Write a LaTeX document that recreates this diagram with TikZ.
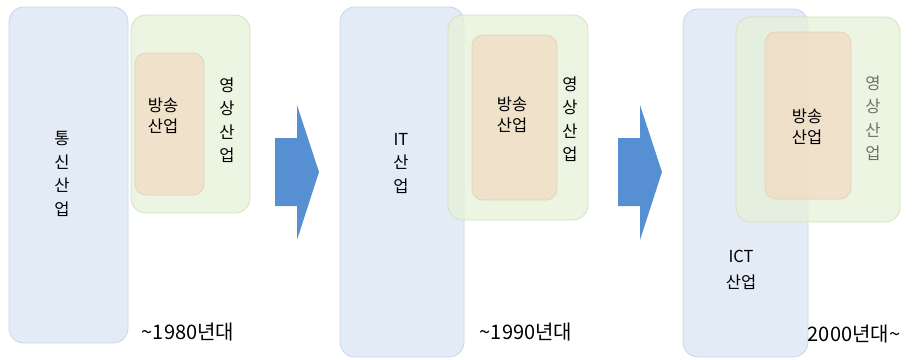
\documentclass[tikz,border=0pt]{standalone}
\usepackage{fontspec}
\setmainfont{Noto Sans CJK KR}
\definecolor{bluefill}{HTML}{DCE7F4}
\definecolor{blueline}{HTML}{C5D6EA}
\definecolor{greenfill}{HTML}{E6F0D8}
\definecolor{greenline}{HTML}{D3E2C0}
\definecolor{orangefill}{HTML}{F1DCC4}
\definecolor{orangeline}{HTML}{E6D2BA}
\definecolor{arrowblue}{HTML}{5690D2}
\definecolor{txtgray}{HTML}{707070}
\begin{document}
\begin{tikzpicture}[x=1pt,y=-1pt,
  bluebox/.style={draw=blueline, fill=bluefill, fill opacity=0.8, rounded corners=15pt, inner sep=0pt, line width=0.8pt},
  greenbox/.style={draw=greenline, fill=greenfill, fill opacity=0.75, rounded corners=15pt, inner sep=0pt, line width=0.8pt},
  orangebox/.style={draw=orangeline, fill=orangefill, fill opacity=0.8, rounded corners=11pt, inner sep=0pt, line width=0.8pt},
  vtext/.style={align=center, inner sep=0pt, font=\fontsize{16.5}{23.5}\selectfont},
  htext/.style={align=center, inner sep=0pt, font=\fontsize{16.5}{21}\selectfont},
  datetext/.style={inner sep=0pt, font=\fontsize{20}{22}\selectfont},
  bigarrow/.style={fill=arrowblue, draw=none}]
\useasboundingbox (0,0) rectangle (915,359);
% ---- panel 1
\node[bluebox, minimum width=119pt, minimum height=336pt] (tel) at (68.5,175) {};
\node[greenbox, minimum width=119pt, minimum height=198pt] (vid1) at (190.5,114) {};
\node[orangebox, minimum width=69pt, minimum height=142pt] (br1) at (169.5,124) {};
\node[vtext] (teltxt) at (62,174) {통\\신\\산\\업};
\node[htext] (br1txt) at (163,116) {방송\\산업};
\node[vtext] (vid1txt) at (227,120) {영\\상\\산\\업};
\node[datetext] (d1) at (188,332) {\char"007E 1980년대};
% arrow 1
\fill[bigarrow] (275,138) -- (297,138) -- (297,105) -- (319,172) -- (297,240) -- (297,206) -- (275,206) -- cycle;
% ---- panel 2
\node[bluebox, minimum width=124pt, minimum height=350pt] (it) at (402,182) {};
\node[greenbox, minimum width=140pt, minimum height=205pt] (vid2) at (518,117.5) {};
\node[orangebox, minimum width=85pt, minimum height=165pt] (br2) at (514.5,117.5) {};
\node[vtext] (ittxt) at (401,163) {IT\\산\\업};
\node[htext] (br2txt) at (512,115) {방송\\산업};
\node[vtext] (vid2txt) at (570,119) {영\\상\\산\\업};
\node[datetext] (d2) at (526,332) {\char"007E 1990년대};
% arrow 2
\fill[bigarrow] (618,138) -- (640,138) -- (640,105) -- (662,172) -- (640,240) -- (640,206) -- (618,206) -- cycle;
% ---- panel 3
\node[bluebox, minimum width=125pt, minimum height=348pt] (ict) at (745.5,183) {};
\node[greenbox, minimum width=164pt, minimum height=205pt] (vid3) at (818,119.5) {};
\node[orangebox, minimum width=86pt, minimum height=167pt] (br3) at (808,115.5) {};
\node[htext] (br3txt) at (807,127) {방송\\산업};
\node[vtext, text=txtgray] (vid3txt) at (873,118) {영\\상\\산\\업};
\node[htext, font=\fontsize{16.5}{26}\selectfont] (icttxt) at (741,270) {ICT\\산업};
\node[datetext] (d3) at (854,334) {2000년대\char"007E};
\end{tikzpicture}
\end{document}
